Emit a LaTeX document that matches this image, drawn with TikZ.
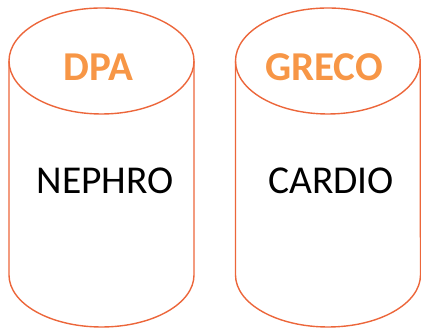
\documentclass[tikz,border=0pt]{standalone}
\usepackage{fontspec}
\setmainfont{Carlito}
\definecolor{cylline}{RGB}{236,102,58}
\definecolor{toptext}{RGB}{247,150,70}
\begin{document}
\begin{tikzpicture}[x=1pt,y=1pt,
  cyl/.style={draw=cylline,line width=1.4pt},
  toplabel/.style={text=toptext,font=\fontsize{41}{41}\selectfont\bfseries,anchor=base,inner sep=0pt},
  bodylabel/.style={text=black,font=\fontsize{39.5}{40}\selectfont,anchor=base,inner sep=0pt}]
\useasboundingbox (0,0) rectangle (421,328);
% left cylinder
\draw[cyl] (9,267) -- (9,53) arc[start angle=180,end angle=360,x radius=92.5,y radius=52] -- (194,267);
\draw[cyl] (101.5,267) ellipse[x radius=92.5,y radius=53];
% right cylinder
\draw[cyl] (235.5,267) -- (235.5,53) arc[start angle=180,end angle=360,x radius=92.5,y radius=52] -- (420.2,267);
\draw[cyl] (327.85,267) ellipse[x radius=92.35,y radius=53];
\node[toplabel] (dpa) at (98.5,247) {DPA};
\node[toplabel] (greco) at (324,247) {GRECO};
\node[bodylabel] (nephro) at (105,134) {NEPHRO};
\node[bodylabel] (cardio) at (331,134) {CARDIO};
\end{tikzpicture}
\end{document}
